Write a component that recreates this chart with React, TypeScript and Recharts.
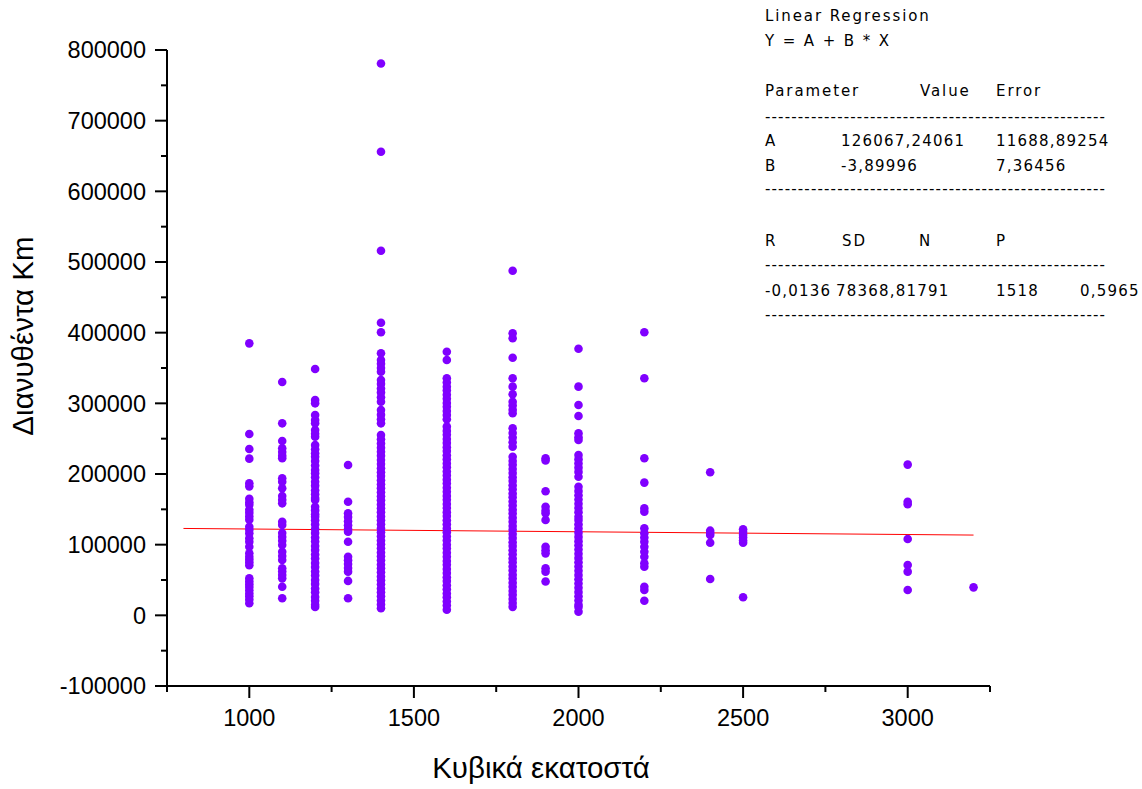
import React from 'react';
import { ScatterChart, Scatter, XAxis, YAxis, ReferenceLine } from 'recharts';

const DOT = '#8000ff';
const FIT = '#ff0000';
const AXIS_FONT = '"Liberation Sans", Arial, sans-serif';
const NOTE_FONT = '"DejaVu Sans", Verdana, sans-serif';

// Distance driven (km) per engine size (cc)
const cc1000 = [384900, 256600, 235400, 221700, 187000, 182500, 165000, 160000, 156500, 149500, 145000, 140000, 135300, 125400, 121000, 116000, 109000, 104000, 97100, 87700, 83000, 79000, 75000, 71000, 52300, 48000, 44000, 40000, 35500, 31000, 27000, 22500, 17000];
const cc1100 = [330200, 271700, 246700, 236400, 231000, 226000, 222200, 193900, 189100, 179800, 168900, 163500, 158500, 132500, 127800, 116500, 111000, 105500, 99500, 90000, 84000, 78300, 66600, 62000, 57000, 52300, 40500, 24100];
const cc1200 = [348500, 304700, 300000, 283500, 276400, 271700, 262300, 257000, 252800, 241000, 235000, 229300, 224500, 218500, 212000, 205700, 201000, 195500, 189000, 183500, 177000, 171500, 166000, 163200, 153700, 148500, 143000, 139600, 134400, 128500, 122000, 116500, 110000, 104500, 98000, 92500, 86000, 80500, 74000, 68500, 62000, 56500, 50000, 44500, 38000, 32500, 26000, 20500, 15000, 11800];
const cc1300 = [212700, 160800, 144400, 139000, 133000, 127500, 122000, 118400, 104200, 83000, 78000, 72500, 67000, 61800, 48700, 24100];
const cc1400 = [781000, 656000, 516000, 414100, 400500, 370800, 361300, 356000, 350000, 344800, 333000, 327500, 321000, 315500, 308500, 302300, 290600, 284000, 277500, 271700, 255200, 249000, 243000, 237000, 231500, 226000, 219800, 214000, 208000, 202500, 197000, 191000, 185500, 180000, 174000, 168500, 163000, 157000, 151500, 146000, 140000, 134500, 129000, 123000, 117500, 112000, 106000, 100500, 95000, 89000, 83500, 78000, 72000, 66500, 61000, 55000, 49500, 44000, 38000, 32500, 27000, 21000, 15500, 10000];
const cc1600 = [373100, 361300, 335400, 329500, 323500, 318000, 312000, 306500, 300500, 295000, 289000, 283500, 277500, 267000, 261000, 255500, 249500, 244000, 238000, 232500, 226500, 221000, 215000, 209500, 203500, 198000, 192000, 186500, 180500, 175000, 169000, 163500, 157500, 152000, 146000, 140500, 134500, 129000, 123000, 117500, 111500, 106000, 100000, 94500, 88500, 83000, 77000, 71500, 65500, 60000, 54000, 48500, 42500, 37000, 31000, 25500, 19500, 14000, 8000];
const cc1800 = [487700, 399100, 392000, 364600, 335400, 323600, 312800, 302300, 297000, 291000, 285900, 264700, 258000, 251500, 245000, 238600, 224500, 218500, 213000, 207000, 201500, 195500, 190000, 184000, 178500, 172500, 167000, 161000, 155500, 149500, 144000, 138000, 132500, 126500, 121000, 115000, 109500, 103500, 98000, 92000, 86500, 80500, 75000, 69000, 63500, 57500, 52000, 46000, 40500, 34500, 29000, 23000, 17500, 12000];
const cc1900 = [222200, 219000, 175500, 153700, 148000, 144400, 134900, 97100, 92000, 87700, 66600, 61800, 47900];
const cc2000 = [377300, 323600, 297600, 282100, 257600, 252000, 248100, 226900, 221000, 215000, 209000, 203000, 196200, 182000, 176000, 170000, 164000, 158000, 152000, 146000, 139600, 134900, 129000, 123000, 117000, 111000, 105000, 99000, 93000, 87000, 81000, 75000, 69000, 63000, 57000, 51000, 45000, 39000, 33000, 27000, 21000, 15000, 11800, 5200];
const cc2200 = [400500, 335400, 222200, 187800, 151400, 146700, 123100, 116000, 110000, 104000, 97100, 90000, 83000, 73600, 68800, 40500, 35800, 20700];
const cc2400 = [202400, 119800, 116500, 113600, 102800, 51400];
const cc2500 = [121700, 118000, 114000, 110000, 106000, 102800, 25500];
const cc3000 = [213300, 160800, 157100, 108000, 71300, 61800, 35800];
const cc3200 = [39600];

const groups: [number, number[]][] = [
  [1000, cc1000], [1100, cc1100], [1200, cc1200], [1300, cc1300], [1400, cc1400],
  [1600, cc1600], [1800, cc1800], [1900, cc1900], [2000, cc2000], [2200, cc2200],
  [2400, cc2400], [2500, cc2500], [3000, cc3000], [3200, cc3200],
];

const points = groups.flatMap(([cc, kms]) => kms.map((km) => ({ cc, km })));

// axis ticks
const xMajor = [1000, 1500, 2000, 2500, 3000];
const xMinor = [750, 1250, 1750, 2250, 2750, 3250];
const yMajor = [-100000, 0, 100000, 200000, 300000, 400000, 500000, 600000, 700000, 800000];
const yMinor = [-50000, 50000, 150000, 250000, 350000, 450000, 550000, 650000, 750000];

// linear fit Y = A + B * X
const fitA = 126067.24061;
const fitB = -3.89996;
const fitRange = [800, 3200];

const paramRows = [
  ['A', '126067,24061', '11688,89254'],
  ['B', '-3,89996', '7,36456'],
];
const statHead = ['R', 'SD', 'N', 'P'];
const statRow = ['-0,0136', '78368,81791', '1518', '0,5965'];
const DASHES = '-'.repeat(52);

function XTick({ x, y, payload }: any) {
  const major = xMajor.includes(payload.value);
  return (
    <g>
      <line x1={x} x2={x} y1={y} y2={y + (major ? 12 : 6)} stroke="#000" strokeWidth={2} />
      {major && (
        <text x={x} y={y + 40} textAnchor="middle" fontSize={23.5} fontFamily={AXIS_FONT} fill="#000">
          {payload.value}
        </text>
      )}
    </g>
  );
}

function YTick({ x, y, payload }: any) {
  const major = yMajor.includes(payload.value);
  return (
    <g>
      <line x1={x - (major ? 12 : 6)} x2={x} y1={y} y2={y} stroke="#000" strokeWidth={2} />
      {major && (
        <text x={x - 21} y={y} dy="0.36em" textAnchor="end" fontSize={23.5} fontFamily={AXIS_FONT} fill="#000">
          {payload.value}
        </text>
      )}
    </g>
  );
}

function Dot({ cx, cy }: any) {
  return <circle cx={cx} cy={cy} r={4.3} fill={DOT} />;
}

function Report() {
  const word = { fontSize: 15, fontFamily: NOTE_FONT, fill: '#000', letterSpacing: 1.9 } as const;
  const num = { ...word, letterSpacing: 1.2 } as const;
  const dash = (y: number) => (
    <text x={765} y={y} {...word} letterSpacing={0} textLength={340} lengthAdjust="spacing">{DASHES}</text>
  );
  return (
    <g>
      <text x={765} y={21} {...word}>Linear Regression</text>
      <text x={765} y={46} {...word}>Y = A + B * X</text>
      <text x={765} y={96} {...word}>Parameter</text>
      <text x={920} y={96} {...word}>Value</text>
      <text x={996} y={96} {...word}>Error</text>
      {dash(122)}
      {paramRows.map((r, i) => (
        <g key={r[0]}>
          <text x={765} y={146 + i * 25} {...word}>{r[0]}</text>
          <text x={841} y={146 + i * 25} {...num}>{r[1]}</text>
          <text x={996} y={146 + i * 25} {...num}>{r[2]}</text>
        </g>
      ))}
      {dash(194)}
      {statHead.map((h, i) => (
        <text key={h} x={[765, 842, 919, 996][i]} y={246} {...word}>{h}</text>
      ))}
      {dash(270)}
      {statRow.map((v, i) => (
        <text key={v} x={[765, 836, 996, 1080][i]} y={296} {...num}>{v}</text>
      ))}
      {dash(320)}
    </g>
  );
}

export default function App() {
  const W = 1142;
  const H = 789;
  return (
    <div style={{ position: 'absolute', left: 0, top: 0, width: W, height: H, background: '#fff' }}>
      <ScatterChart width={W} height={H} margin={{ top: 50, right: 152, bottom: 73, left: 107 }}>
        <XAxis
          type="number"
          dataKey="cc"
          domain={[750, 3250]}
          ticks={[...xMajor, ...xMinor].sort((a, b) => a - b)}
          interval={0}
          height={30}
          tickSize={0}
          tickMargin={0}
          tickLine={false}
          tick={<XTick />}
          axisLine={{ stroke: '#000', strokeWidth: 2 }}
          allowDataOverflow
        />
        <YAxis
          type="number"
          dataKey="km"
          domain={[-100000, 800000]}
          ticks={[...yMajor, ...yMinor].sort((a, b) => a - b)}
          interval={0}
          width={60}
          tickSize={0}
          tickMargin={0}
          tickLine={false}
          tick={<YTick />}
          axisLine={{ stroke: '#000', strokeWidth: 2 }}
          allowDataOverflow
        />
        <Scatter data={points} shape={<Dot />} isAnimationActive={false} />
        <ReferenceLine
          segment={[
            { x: fitRange[0], y: fitA + fitB * fitRange[0] },
            { x: fitRange[1], y: fitA + fitB * fitRange[1] },
          ]}
          stroke={FIT}
          strokeWidth={1}
        />
      </ScatterChart>
      <svg width={W} height={H} style={{ position: 'absolute', left: 0, top: 0, pointerEvents: 'none' }}>
        <text
          transform="translate(33, 336) rotate(-90)"
          textAnchor="middle"
          fontSize={29.5}
          fontFamily={AXIS_FONT}
          fill="#000"
        >
          Διανυθέντα Km
        </text>
        <text x={541} y={778} textAnchor="middle" fontSize={29.5} fontFamily={AXIS_FONT} fill="#000">
          Κυβικά εκατοστά
        </text>
        <Report />
      </svg>
    </div>
  );
}
